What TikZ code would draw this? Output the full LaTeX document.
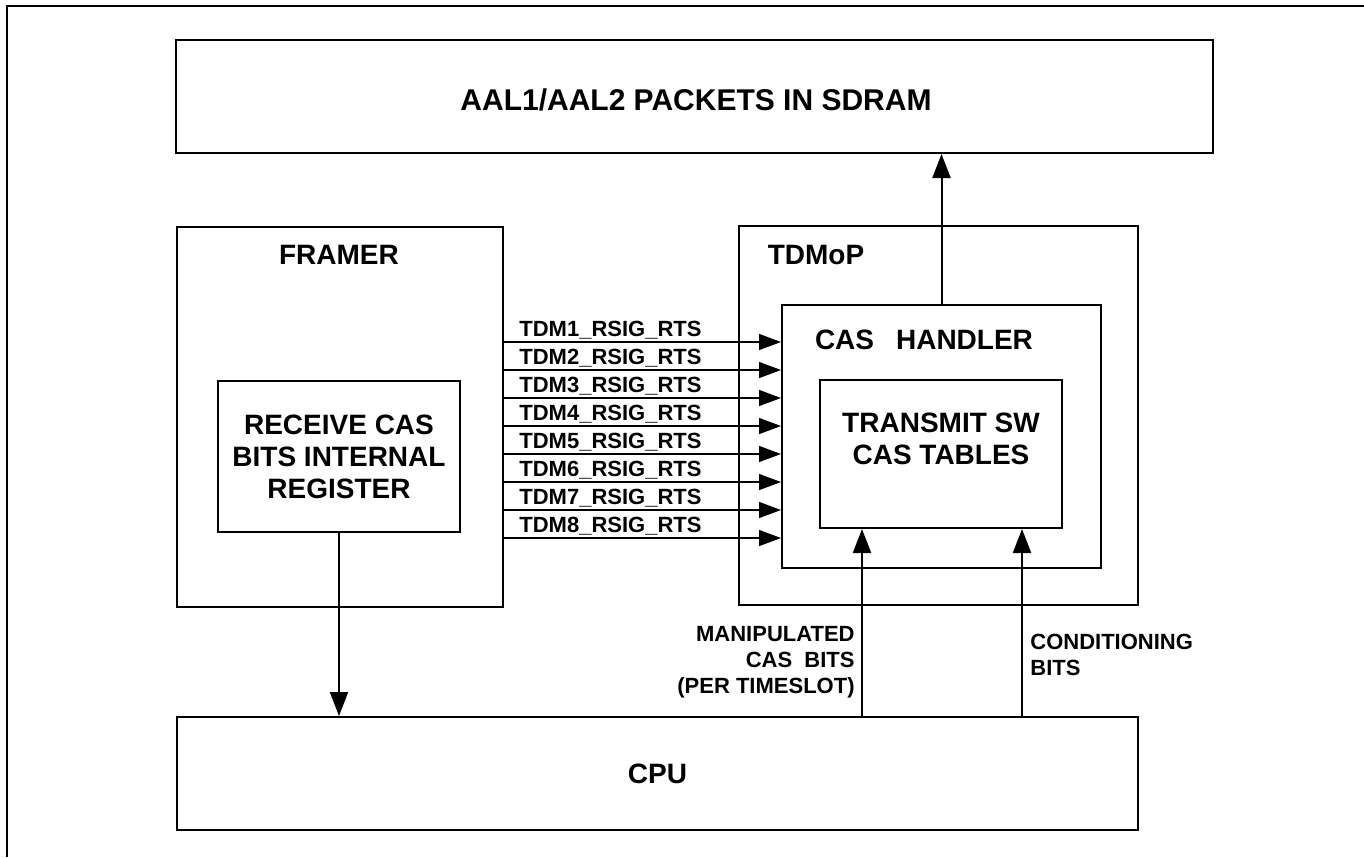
\documentclass[tikz,border=0pt]{standalone}
\usepackage{fontspec}
\setmainfont{Liberation Sans}
\usetikzlibrary{arrows.meta, positioning}
\tikzset{box/.style={draw, line width=1pt, inner sep=0pt, align=center,
                     font=\fontsize{14}{16}\selectfont\bfseries},
         title/.style={font=\fontsize{14}{16}\selectfont\bfseries, inner sep=0pt, align=center},
         small/.style={font=\fontsize{11}{13}\selectfont\bfseries, inner sep=0pt},
         sig/.style={line width=0.7pt, -{Triangle[length=11pt,width=8pt]}},
         arr/.style={line width=1pt, -{Triangle[length=12pt,width=9pt]}},
        }

\begin{document}
\begin{tikzpicture}[x=0.5pt,y=-0.5pt]
        \useasboundingbox (0,0) rectangle (1364,857);
        \draw[line width=1pt] (7,857) -- (7,6) -- (1364,6);

        \node[box, minimum width=518.5pt, minimum height=56.5pt](sdram)at(694.5,96.5){};
        \node[box, minimum width=163pt, minimum height=190pt](framer)at(340,417){};
        \node[box, minimum width=121pt, minimum height=75.5pt](recv)at(339,456.5){RECEIVE CAS\\BITS INTERNAL\\REGISTER};
        \node[box, minimum width=199.5pt, minimum height=189.5pt](tdmop)at(938.5,415.5){};
        \node[box, minimum width=159.5pt, minimum height=131.5pt](cas)at(941.5,436.5){};
        \node[box, minimum width=121pt, minimum height=74pt](xmit)at(941,454){};
        \node[box, minimum width=480.5pt, minimum height=56.5pt](cpu)at(657.5,773.5){CPU};

        \node[title, font=\fontsize{15}{17}\selectfont\bfseries](sdramt)at(696,100){AAL1/AAL2 PACKETS IN SDRAM};
        \node[title](framert)at(339,255){FRAMER};
        \node[title](tdmopt)at(816,255){TDMoP};
        \node[title](cast)at(924,340){CAS\hspace{11pt}HANDLER};
        \node[title](xmitt)at(941,439){TRANSMIT SW\\ CAS TABLES};

        \foreach \i in {1,...,8}{
            \pgfmathsetmacro\yy{314+28*\i}
            \draw[sig](framer.east |- 0,\yy)--(cas.west |- 0,\yy);
            \node[small, anchor=base west](lbl\i)at(519,\yy-6){TDM\i\_RSIG\_RTS};
        }

        \coordinate (m1) at (862,0);
        \coordinate (m2) at (1022,0);
        \draw[arr](recv.south)--(recv.south |- cpu.north);
        \draw[arr](cas.north)--(cas.north |- sdram.south);
        \draw[arr](m1 |- cpu.north)--(m1 |- xmit.south);
        \draw[arr](m2 |- cpu.north)--(m2 |- xmit.south);

        \node[small, align=right, anchor=north east](manip)at(855,626){MANIPULATED\\CAS~~BITS\\(PER TIMESLOT)};
        \node[small, align=left, anchor=north west](cond)at(1030,634){CONDITIONING\\BITS};
\end{tikzpicture}
\end{document}
